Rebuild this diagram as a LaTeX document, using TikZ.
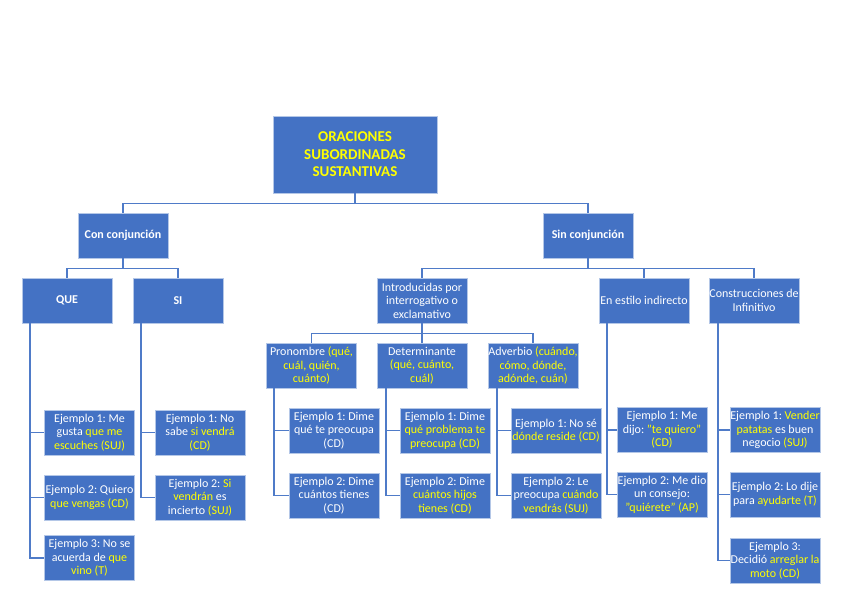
\documentclass[tikz,border=0pt]{standalone}
\usepackage{fontspec}
\setmainfont{Carlito}
\usepackage{tikz}

\definecolor{boxblue}{HTML}{4472C4}
\definecolor{lineblue}{HTML}{4F7BC8}
\definecolor{edgeblue}{HTML}{B4C7E7}
\definecolor{ylw}{HTML}{FFFF00}
\newcommand{\yl}[1]{\textcolor{ylw}{#1}}
\frenchspacing

\tikzset{
	box/.style={fill=boxblue, draw=edgeblue, line width=0.8pt, text=white,
		minimum width=90pt, minimum height=45pt, inner xsep=0pt, inner ysep=1pt,
		align=center, font=\fontsize{12}{13.5}\selectfont},
	headbox/.style={box, font=\bfseries\fontsize{12}{13.5}\selectfont},
	titlebox/.style={box, minimum width=164pt, minimum height=77pt,
		text=ylw, font=\bfseries\fontsize{15}{17.5}\selectfont},
	link/.style={draw=lineblue, line width=1.8pt}
}

\begin{document}
\begin{tikzpicture}[x=1pt,y=-1pt]
	
	\useasboundingbox (0,0) rectangle (848,599);
	
	% levels
	\node[titlebox] (top) at (355,154.5) {ORACIONES\\SUBORDINADAS\\SUSTANTIVAS};
	\node[headbox] (con) at (123,235.5) {Con conjunción};
	\node[headbox] (sin) at (588,235.5) {Sin conjunción};
	\node[headbox] (que) at (67,300.5) {QUE};
	\node[headbox] (si) at (178,300.5) {SI};
	\node[box] (intro) at (422,300.5) {Introducidas por\\interrogativo o\\exclamativo};
	\node[box] (estilo) at (644,300.5) {En estilo indirecto};
	\node[box] (constr) at (754,300.5) {Construcciones de\\Infinitivo};
	\node[box] (pron) at (311.5,365.5) {Pronombre \yl{(qué,}\\\yl{cuál, quién,}\\\yl{cuánto)}};
	\node[box] (det) at (422,365.5) {Determinante\\\yl{(qué, cuánto,}\\\yl{cuál)}};
	\node[box] (adv) at (533,365.5) {Adverbio \yl{(cuándo,}\\\yl{cómo, dónde,}\\\yl{adónde, cuán)}};
	
	% ejemplos
	\node[box] (que1) at (89.5,432.5) {Ejemplo 1: Me\\gusta \yl{que me}\\\yl{escuches (SUJ)}};
	\node[box] (que2) at (89.5,497.5) {Ejemplo 2: Quiero\\\yl{que vengas (CD)}};
	\node[box] (que3) at (89.5,558) {Ejemplo 3: No se\\acuerda de \yl{que}\\\yl{vino (T)}};
	\node[box] (si1) at (200,432.5) {Ejemplo 1: No\\sabe \yl{si vendrá}\\\yl{(CD)}};
	\node[box] (si2) at (200,497.5) {Ejemplo 2: \yl{Si}\\\yl{vendrán} es\\incierto \yl{(SUJ)}};
	\node[box] (pron1) at (334,430.5) {Ejemplo 1: Dime\\qué te preocupa\\(CD)};
	\node[box] (pron2) at (334,495.5) {Ejemplo 2: Dime\\cuántos tienes\\(CD)};
	\node[box] (det1) at (445,430.5) {Ejemplo 1: Dime\\\yl{qué problema te}\\\yl{preocupa (CD)}};
	\node[box] (det2) at (445,495.5) {Ejemplo 2: Dime\\\yl{cuántos hijos}\\\yl{tienes (CD)}};
	\node[box] (adv1) at (556,430.5) {Ejemplo 1: No sé\\\yl{dónde reside (CD)}};
	\node[box] (adv2) at (556,495.5) {Ejemplo 2: Le\\preocupa \yl{cuándo}\\\yl{vendrás (SUJ)}};
	\node[box] (estilo1) at (662,430) {Ejemplo 1: Me\\dijo: \yl{"te quiero"}\\\yl{(CD)}};
	\node[box] (estilo2) at (662,494.5) {Ejemplo 2: Me dio\\un consejo:\\\yl{"quiérete" (AP)}};
	\node[box] (constr1) at (775,430) {Ejemplo 1: \yl{Vender}\\\yl{patatas} es buen\\negocio \yl{(SUJ)}};
	\node[box] (constr2) at (775,494.5) {Ejemplo 2: Lo dije\\para \yl{ayudarte (T)}};
	\node[box] (constr3) at (775,560.5) {Ejemplo 3:\\Decidió \yl{arreglar la}\\\yl{moto (CD)}};
	
	% ramas
	\draw[link] (top.south) -- ++(0,10) -| (con.north);
	\draw[link] (top.south) -- ++(0,10) -| (sin.north);
	\draw[link] (con.south) -- ++(0,10) -| (que.north);
	\draw[link] (con.south) -- ++(0,10) -| (si.north);
	\draw[link] (sin.south) -- ++(0,10) -| (intro.north);
	\draw[link] (sin.south) -- ++(0,10) -| (estilo.north);
	\draw[link] (sin.south) -- ++(0,10) -| (constr.north);
	\draw[link] (intro.south) -- ++(0,10) -| (pron.north);
	\draw[link] (intro.south) -- ++(0,10) -| (det.north);
	\draw[link] (intro.south) -- ++(0,10) -| (adv.north);
	
	\draw[link] ([xshift=8pt]que.south west) |- (que1.west);
	\draw[link] ([xshift=8pt]que.south west) |- (que2.west);
	\draw[link] ([xshift=8pt]que.south west) |- (que3.west);
	\draw[link] ([xshift=8pt]si.south west) |- (si1.west);
	\draw[link] ([xshift=8pt]si.south west) |- (si2.west);
	\draw[link] ([xshift=8pt]pron.south west) |- (pron1.west);
	\draw[link] ([xshift=8pt]pron.south west) |- (pron2.west);
	\draw[link] ([xshift=9pt]det.south west) |- (det1.west);
	\draw[link] ([xshift=9pt]det.south west) |- (det2.west);
	\draw[link] ([xshift=9pt]adv.south west) |- (adv1.west);
	\draw[link] ([xshift=9pt]adv.south west) |- (adv2.west);
	\draw[link] ([xshift=8pt]estilo.south west) |- (estilo1.west);
	\draw[link] ([xshift=8pt]estilo.south west) |- (estilo2.west);
	\draw[link] ([xshift=9pt]constr.south west) |- (constr1.west);
	\draw[link] ([xshift=9pt]constr.south west) |- (constr2.west);
	\draw[link] ([xshift=9pt]constr.south west) |- (constr3.west);
	
\end{tikzpicture}
\end{document}
